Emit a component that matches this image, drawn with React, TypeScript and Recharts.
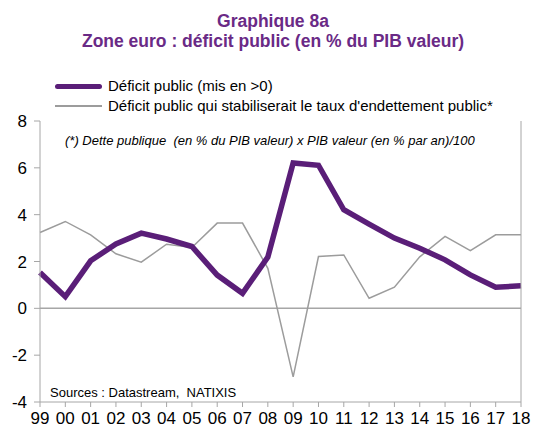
import {
  LineChart,
  Line,
  XAxis,
  YAxis,
  ReferenceLine,
} from "recharts";

const YEARS = ["99", "00", "01", "02", "03", "04", "05", "06", "07", "08", "09", "10", "11", "12", "13", "14", "15", "16", "17", "18"];
const DEFICIT = [1.53, 0.5, 2.03, 2.75, 3.21, 2.96, 2.64, 1.42, 0.64, 2.19, 6.21, 6.11, 4.21, 3.6, 3.0, 2.57, 2.07, 1.43, 0.9, 0.96];
const STABLE = [3.24, 3.71, 3.14, 2.33, 1.97, 2.74, 2.6, 3.64, 3.64, 1.71, -2.93, 2.21, 2.28, 0.43, 0.9, 2.2, 3.07, 2.46, 3.14, 3.14];
const Y_TICKS = [-4, -2, 0, 2, 4, 6, 8];

const PURPLE = "#5a1e78";
const GREY = "#9c9c9c";
const AXIS = "#a6a6a6";
const FONT = "'Liberation Sans', Arial, sans-serif";

const data = YEARS.map((year, i) => ({
  year,
  deficit: DEFICIT[i],
  stable: STABLE[i],
}));

export default function App() {
  return (
    <div style={{ position: "relative", width: 550, height: 432, fontFamily: FONT, color: "#000" }}>
      <style>{`body{margin:0}`}</style>
      <div
        style={{
          position: "absolute",
          top: 11,
          left: 0,
          width: 546,
          textAlign: "center",
          color: "#6a2a86",
          fontWeight: "bold",
          fontSize: 17.5,
          lineHeight: "20px",
        }}
      >
        Graphique 8a
        <br />
        Zone euro : déficit public (en % du PIB valeur)
      </div>

      <div style={{ position: "absolute", top: 76, left: 55, fontSize: 15, lineHeight: "20px" }}>
        <div style={{ display: "flex", alignItems: "center" }}>
          <span style={{ display: "inline-block", width: 47, height: 5, borderRadius: 3, background: PURPLE, marginRight: 6 }} />
          <span>Déficit public (mis en &gt;0)</span>
        </div>
        <div style={{ display: "flex", alignItems: "center" }}>
          <span style={{ display: "inline-block", width: 47, height: 1.5, background: GREY, marginRight: 6 }} />
          <span>Déficit public qui stabiliserait le taux d'endettement public*</span>
        </div>
      </div>

      <div style={{ position: "absolute", top: 133, left: 65, fontSize: 13, fontStyle: "italic", whiteSpace: "pre" }}>
        {"(*) Dette publique  (en % du PIB valeur) x PIB valeur (en % par an)/100"}
      </div>

      <div style={{ position: "absolute", top: 385, left: 50, fontSize: 13, whiteSpace: "pre" }}>
        {"Sources : Datastream,  NATIXIS"}
      </div>

      <LineChart
        width={550}
        height={432}
        data={data}
        margin={{ top: 121, right: 0, bottom: 0, left: 0 }}
        style={{ position: "absolute", top: 0, left: 0 }}
      >
        <XAxis
          dataKey="year"
          height={30}
          interval={0}
          stroke={AXIS}
          tickSize={5}
          tickMargin={5}
          tick={{ fill: "#000", fontSize: 17, fontFamily: FONT }}
        />
        <YAxis
          yAxisId="left"
          width={40}
          domain={[-4, 8]}
          ticks={Y_TICKS}
          interval={0}
          stroke={AXIS}
          tickSize={6}
          tickMargin={7}
          tick={{ fill: "#000", fontSize: 17, fontFamily: FONT }}
        />
        <YAxis
          yAxisId="right"
          orientation="right"
          width={29}
          domain={[-4, 8]}
          ticks={Y_TICKS}
          interval={0}
          stroke={AXIS}
          tickSize={6}
          tickMargin={6}
          tick={{ fill: "#000", fontSize: 17, fontFamily: FONT }}
        />
        <ReferenceLine yAxisId="left" y={0} stroke={AXIS} strokeWidth={1.5} />
        <Line
          yAxisId="left"
          type="linear"
          dataKey="stable"
          stroke={GREY}
          strokeWidth={1.5}
          dot={false}
          isAnimationActive={false}
        />
        <Line
          yAxisId="left"
          type="linear"
          dataKey="deficit"
          stroke={PURPLE}
          strokeWidth={5.5}
          dot={false}
          isAnimationActive={false}
        />
      </LineChart>
    </div>
  );
}
